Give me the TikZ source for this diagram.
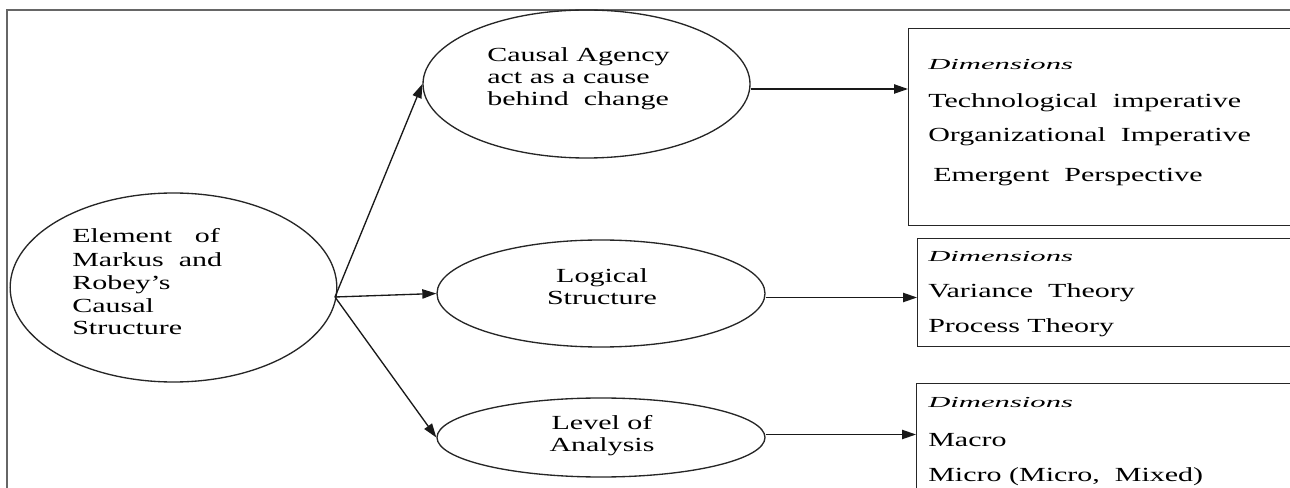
\documentclass[tikz,border=0pt]{standalone}
\usepackage{fontspec}
\setmainfont{Liberation Serif}[FakeStretch=1.5]
\newfontfamily\dimfont{Liberation Serif}[FakeStretch=2.0]
\usetikzlibrary{shapes.geometric,arrows.meta}

\begin{document}
\begin{tikzpicture}[x=0.75pt,y=-0.75pt,
  outline/.style={draw=black!85,line width=1pt},
  bubble/.style={outline,ellipse,inner sep=0pt},
  dimbox/.style={outline,rectangle,inner sep=0pt,anchor=north west},
  frame/.style={draw=black!60,line width=1pt},
  arr/.style={draw=black!90,line width=1pt,-{Triangle[length=10.5pt,width=7pt]}},
  txt/.style={inner sep=0pt,anchor=base west,font=\fontsize{15}{18}\selectfont},
  ctxt/.style={txt,anchor=base},
  dimtxt/.style={inner sep=0pt,anchor=base west,font=\dimfont\itshape\fontsize{11.5}{13}\selectfont},
]
\useasboundingbox (0,0) rectangle (1290,488);
\clip (0,0) rectangle (1290,488);

% outer frame (runs off the right and bottom edges)
\draw[frame] (7,530) |- (1330,10);

% ellipses
\node[bubble,minimum width=245pt,minimum height=141.75pt] (main) at (173.5,287.5) {};
\node[bubble,minimum width=245.25pt,minimum height=111pt] (ca) at (586.5,84) {};
\node[bubble,minimum width=246pt,minimum height=80.25pt] (ls) at (601,293.5) {};
\node[bubble,minimum width=246pt,minimum height=59.25pt] (la) at (601,437.5) {};

% dimension boxes
\node[dimbox,minimum width=301.5pt,minimum height=147.75pt] (b1) at (908,28) {};
\node[dimbox,minimum width=294.75pt,minimum height=81pt] (b2) at (917,238) {};
\node[dimbox,minimum width=295.5pt,minimum height=97.5pt] (b3) at (916,383) {};

% text of the central element
\node[txt] (m1) at (72,243) {Element\ \ \ of};
\node[txt] (m2) at (72,267) {Markus\ \ and};
\node[txt] (m3) at (72,290) {Robey’s};
\node[txt] (m4) at (72,313) {Causal};
\node[txt] (m5) at (72,335) {Structure};

% text of the three elements
\node[txt] (ca1) at (487,62) {Causal Agency};
\node[txt] (ca2) at (487,84) {act as a cause};
\node[txt] (ca3) at (487,106) {behind\ \ change};

\node[ctxt] (ls1) at (602,283) {Logical};
\node[ctxt] (ls2) at (602,305) {Structure};

\node[ctxt] (la1) at (602,430) {Level of};
\node[ctxt] (la2) at (602,451) {Analysis};

% box contents
\node[dimtxt] (b1d) at (928,70) {Dimensions};
\node[txt] (b11) at (928,108) {Technological\ \ imperative};
\node[txt] (b12) at (928,142) {Organizational\ \ Imperative};
\node[txt] (b13) at (933,182) {Emergent\ \ Perspective};

\node[dimtxt] (b2d) at (928,262) {Dimensions};
\node[txt] (b21) at (928,298) {Variance\ \ Theory};
\node[txt] (b22) at (928,333) {Process Theory};

\node[dimtxt] (b3d) at (928,408) {Dimensions};
\node[txt] (b31) at (928,446) {Macro};
\node[txt] (b32) at (928,482) {Micro (Micro,\ \ Mixed)};

% connectors
\coordinate (hub) at (335,297);
\draw[arr] (hub) -- (ca.west);
\draw[arr] (hub) -- (ls.west);
\draw[arr] (hub) -- (la.west);

\draw[arr] ([yshift=-3.75pt]ca.east) -- ([yshift=-3.75pt]ca.east -| b1.west);
\draw[arr] ([yshift=-3pt]ls.east) -- ([yshift=-3pt]ls.east -| b2.west);
\draw[arr] ([yshift=2.25pt]la.east) -- ([yshift=2.25pt]la.east -| b3.west);
\end{tikzpicture}
\end{document}
